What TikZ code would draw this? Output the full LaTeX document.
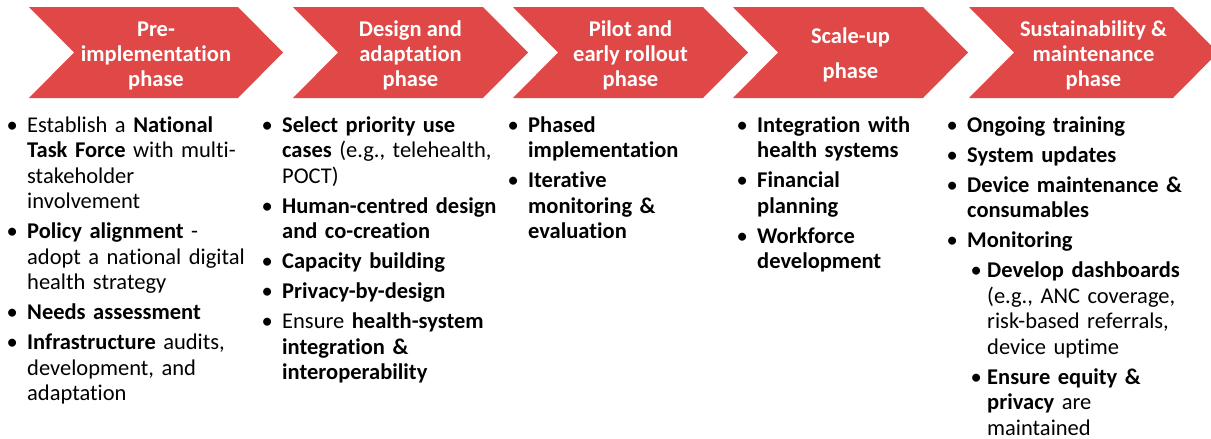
\documentclass[tikz,border=0pt]{standalone}
\usepackage{fontspec}
\setmainfont{Carlito}[Ligatures=NoCommon]
\definecolor{phasered}{RGB}{223, 72, 70}
\newcommand{\phasebody}{\fontsize{22.5}{25.5}\selectfont\setlength{\parskip}{4.5pt}}
\newcommand{\phasept}[1]{\par\noindent\hangindent=20.5pt\hangafter=1\makebox[20.5pt][l]{\strut\textbullet}#1\par}
\newcommand{\phasesub}[1]{\par\noindent\hangindent=40.5pt\hangafter=1\hspace*{24pt}\makebox[16.5pt][l]{\strut\textbullet}#1\par}
\tikzset{
	phasetitle/.style={text=white, align=center, font=\bfseries\fontsize{22.5}{25}\selectfont},
	phaselist/.style={anchor=north west, inner sep=0pt, text width=250pt, align=left, font=\phasebody}
}

\begin{document}
\begin{tikzpicture}[x=1pt, y=-1pt]
			\clip (0, 0) rectangle (1211, 439);
			\fill [phasered] (29, 7) -- (238, 7) -- (283, 52.5) -- (238, 98) -- (29, 98) -- (74, 52.5) -- cycle;
			\fill [phasered] (293, 7) -- (483, 7) -- (528, 52.5) -- (483, 98) -- (293, 98) -- (338, 52.5) -- cycle;
			\fill [phasered] (513, 7) -- (703, 7) -- (748, 52.5) -- (703, 98) -- (513, 98) -- (558, 52.5) -- cycle;
			\fill [phasered] (733, 7) -- (923, 7) -- (968, 52.5) -- (923, 98) -- (733, 98) -- (778, 52.5) -- cycle;
			\fill [phasered] (969, 7) -- (1173, 7) -- (1218, 52.5) -- (1173, 98) -- (969, 98) -- (1014, 52.5) -- cycle;
			\node [phasetitle] (pre) at (156, 55.5) {Pre-\\implementation\\phase};
			\node [phasetitle] (design) at (410.5, 55.5) {Design and\\adaptation\\phase};
			\node [phasetitle] (pilot) at (630.5, 55.5) {Pilot and\\early rollout\\phase};
			\node [phasetitle] (scale) at (850.5, 54.5) {Scale-up\\[10pt]phase};
			\node [phasetitle] (sustain) at (1093.5, 55.5) {Sustainability \&\\maintenance\\phase};
			\node [phaselist] (prelist) at (6.5, 102) {%
				\phasept{Establish a \textbf{National}\newline\textbf{Task Force} with multi-\newline stakeholder\newline involvement}
				\phasept{\textbf{Policy alignment} -\newline adopt a national digital\newline health strategy}
				\phasept{\textbf{Needs assessment}}
				\phasept{\textbf{Infrastructure} audits,\newline development, and\newline adaptation}};
			\node [phaselist] (designlist) at (261.5, 102) {%
				\phasept{\textbf{Select priority use}\newline\textbf{cases} (e.g., telehealth,\newline POCT)}
				\phasept{\textbf{Human-centred design}\newline\textbf{and co-creation}}
				\phasept{\textbf{Capacity building}}
				\phasept{\textbf{Privacy-by-design}}
				\phasept{Ensure \textbf{health-system}\newline\textbf{integration \&}\newline\textbf{interoperability}}};
			\node [phaselist] (pilotlist) at (507.5, 102) {%
				\phasept{\textbf{Phased}\newline\textbf{implementation}}
				\phasept{\textbf{Iterative}\newline\textbf{monitoring \&}\newline\textbf{evaluation}}};
			\node [phaselist] (scalelist) at (736.5, 102) {%
				\phasept{\textbf{Integration with}\newline\textbf{health systems}}
				\phasept{\textbf{Financial}\newline\textbf{planning}}
				\phasept{\textbf{Workforce}\newline\textbf{development}}};
			\node [phaselist] (sustainlist) at (946.5, 102) {%
				\phasept{\textbf{Ongoing training}}
				\phasept{\textbf{System updates}}
				\phasept{\textbf{Device maintenance \&}\newline\textbf{consumables}}
				\phasept{\textbf{Monitoring}}
				\phasesub{\textbf{Develop dashboards}\newline(e.g., ANC coverage,\newline risk-based referrals,\newline device uptime}
				\phasesub{\textbf{Ensure equity \&}\newline\textbf{privacy} are\newline maintained}};
		\end{tikzpicture}
\end{document}
